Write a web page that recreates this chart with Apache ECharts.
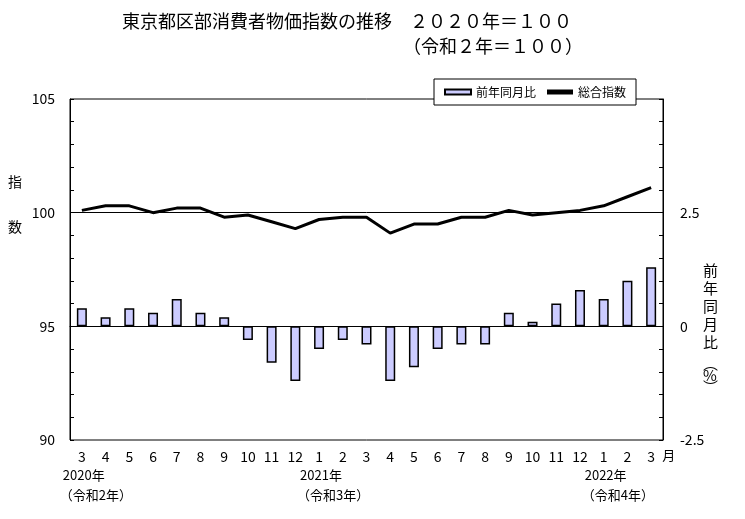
<!DOCTYPE html>
<html>
<head>
<meta charset="utf-8">
<script src="https://cdn.jsdelivr.net/npm/echarts@6/dist/echarts.min.js"></script>
<style>
html,body{margin:0;padding:0;background:#fff;}
#main{width:745px;height:519px;}
</style>
</head>
<body>
<div id="main"></div>
<script>
const categories = ['2020/3','2020/4','2020/5','2020/6','2020/7','2020/8','2020/9','2020/10','2020/11','2020/12',
  '2021/1','2021/2','2021/3','2021/4','2021/5','2021/6','2021/7','2021/8','2021/9','2021/10','2021/11','2021/12',
  '2022/1','2022/2','2022/3'];
const indexValues = [100.1,100.3,100.3,100.0,100.2,100.2,99.8,99.9,99.6,99.3,
  99.7,99.8,99.8,99.1,99.5,99.5,99.8,99.8,100.1,99.9,100.0,100.1,
  100.3,100.7,101.1];
const yoyValues = [0.4,0.2,0.4,0.3,0.6,0.3,0.2,-0.3,-0.8,-1.2,
  -0.5,-0.3,-0.4,-1.2,-0.9,-0.5,-0.4,-0.4,0.3,0.1,0.5,0.8,
  0.6,1.0,1.3];
const leftTickLabels = [90,95,100,105];
const rightTickLabels = [-2.5,0,2.5];
const yearIndex = [0,10,22];
const yearText = ['2020年','2021年','2022年'];
const eraText = ['（令和2年）','（令和3年）','（令和4年）'];

const FONT = '"Noto Sans CJK JP", "Noto Sans", sans-serif';
const chart = echarts.init(document.getElementById('main'));

const option = {
  backgroundColor: '#fff',
  animation: false,
  textStyle: {fontFamily: FONT, color: '#000'},
  title: [
    {text: '東京都区部消費者物価指数の推移　２０２０年＝１００', left: 122, top: 12, padding: 0,
     textStyle: {fontFamily: FONT, fontSize: 18, fontWeight: 'normal', color: '#000'}},
    {text: '（令和２年＝１００）', right: 162, top: 37, padding: 0,
     textStyle: {fontFamily: FONT, fontSize: 18, fontWeight: 'normal', color: '#000'}}
  ],
  legend: {
    left: 434, top: 79,
    padding: [7, 10],
    itemGap: 11,
    itemWidth: 26, itemHeight: 5,
    backgroundColor: '#fff',
    borderColor: '#000', borderWidth: 1,
    textStyle: {fontFamily: FONT, fontSize: 12, color: '#000'},
    data: [{name: '前年同月比', icon: 'rect'}, {name: '総合指数', icon: 'rect'}],
    selectedMode: false,
    z: 10
  },
  grid: {left: 70, right: 82, top: 99, bottom: 79, show: true, borderColor: '#000', borderWidth: 1},
  xAxis: {
    type: 'category',
    data: categories,
    axisLine: {lineStyle: {color: '#000'}},
    axisTick: {show: false},
    axisLabel: {interval: 0, margin: 10, fontSize: 14, color: '#000', fontFamily: FONT,
      formatter: v => v.split('/')[1]}
  },
  yAxis: [
    {
      type: 'value', min: 90, max: 105, interval: 1,
      splitLine: {show: false},
      axisLine: {show: true, lineStyle: {color: '#000'}},
      axisTick: {show: true, inside: true, length: 4, lineStyle: {color: '#000'}},
      axisLabel: {margin: 15, fontSize: 14, color: '#000', fontFamily: FONT,
        formatter: v => leftTickLabels.includes(v) ? String(v) : ''}
    },
    {
      type: 'value', min: -2.5, max: 5, interval: 0.5,
      splitLine: {show: false},
      axisLine: {show: true, lineStyle: {color: '#000'}},
      axisTick: {show: true, inside: true, length: 4, lineStyle: {color: '#000'}},
      axisLabel: {margin: 17, fontSize: 14, color: '#000', fontFamily: FONT,
        formatter: v => rightTickLabels.includes(v) ? String(v) : ''}
    }
  ],
  series: [
    {
      name: '前年同月比', type: 'bar', yAxisIndex: 1,
      data: yoyValues, barWidth: 10,
      itemStyle: {color: '#ccccff', borderColor: '#000', borderWidth: 1.5},
      markLine: {silent: true, symbol: 'none', label: {show: false},
        lineStyle: {color: '#000', width: 1, type: 'solid'}, data: [{yAxis: 0}]},
      z: 2
    },
    {
      name: '総合指数', type: 'line', yAxisIndex: 0,
      data: indexValues, showSymbol: false, symbol: 'none',
      lineStyle: {color: '#000', width: 3}, itemStyle: {color: '#000'},
      markLine: {silent: true, symbol: 'none', label: {show: false},
        lineStyle: {color: '#000', width: 1, type: 'solid'}, data: [{yAxis: 100}]},
      z: 3
    }
  ]
};
chart.setOption(option);

const graphics = [];
yearIndex.forEach((idx, k) => {
  const x = chart.convertToPixel({xAxisIndex: 0}, categories[idx]);
  graphics.push({type: 'text', left: x - 19, top: 469,
    style: {text: yearText[k], fontSize: 13, fontFamily: FONT, fill: '#000'}});
  graphics.push({type: 'text', left: x - 22, top: 489,
    style: {text: eraText[k], fontSize: 13, fontFamily: FONT, fill: '#000'}});
});
const lastX = chart.convertToPixel({xAxisIndex: 0}, categories[categories.length - 1]);
graphics.push({type: 'text', left: lastX + 11, top: 449,
  style: {text: '月', fontSize: 13, fontFamily: FONT, fill: '#000'}});
graphics.push({type: 'text', left: 8, top: 175,
  style: {text: '指', fontSize: 14, fontFamily: FONT, fill: '#000'}});
graphics.push({type: 'text', left: 8, top: 220,
  style: {text: '数', fontSize: 14, fontFamily: FONT, fill: '#000'}});
graphics.push({type: 'text', left: 703, top: 261,
  style: {text: '前\n年\n同\n月\n比', fontSize: 15, lineHeight: 18, fontFamily: FONT, fill: '#000'}});
graphics.push({type: 'text', left: 703, top: 356,
  style: {text: '︵\n%\n︶', fontSize: 15, lineHeight: 12, fontFamily: FONT, fill: '#000'}});
chart.setOption({graphic: graphics});
</script>
</body>
</html>
